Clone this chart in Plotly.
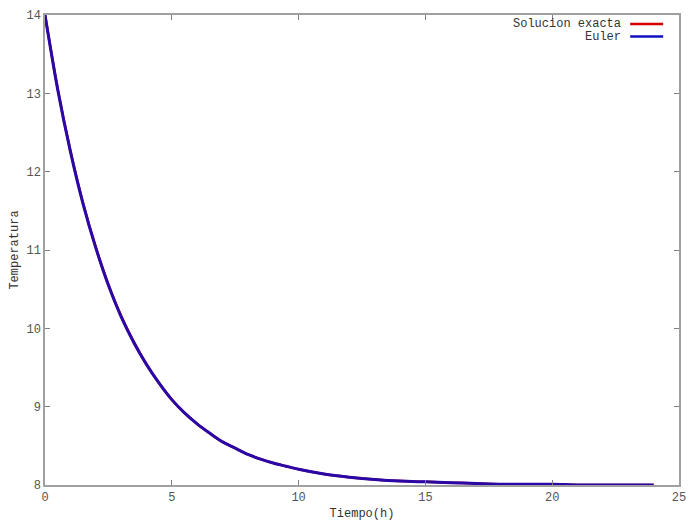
import plotly.graph_objects as go

# tiempo (h) y temperaturas
tiempo = [0, 0.5, 1, 1.5, 2, 2.5, 3, 3.5, 4, 4.5, 5, 5.5, 6, 6.5, 7, 7.5, 8, 8.5, 9, 9.5,
          10, 11, 12, 13, 14, 15, 16, 17, 18, 19, 20, 21, 22, 23, 24]
temp_exacta = [14.00, 13.06, 12.27, 11.60, 11.04, 10.56, 10.16, 9.83, 9.54, 9.30,
               9.09, 8.92, 8.78, 8.66, 8.55, 8.47, 8.39, 8.33, 8.28, 8.24,
               8.20, 8.14, 8.10, 8.07, 8.05, 8.04, 8.03, 8.02, 8.01, 8.01,
               8.01, 8.00, 8.00, 8.00, 8.00]
temp_euler = [14.00, 13.05, 12.26, 11.59, 11.03, 10.55, 10.15, 9.82, 9.54, 9.30,
              9.09, 8.92, 8.78, 8.66, 8.55, 8.47, 8.39, 8.33, 8.28, 8.24,
              8.20, 8.14, 8.10, 8.07, 8.05, 8.04, 8.03, 8.02, 8.01, 8.01,
              8.01, 8.00, 8.00, 8.00, 8.00]

legend_names = ['Solucion exacta', 'Euler']
COLORS = ['#d40000', '#1010c0']
EULER_CURVE = '#2a08a8'   # azul sobre rojo, se ve indigo
FONT = 'Liberation Mono, Courier New, monospace'
AXIS_GREY = '#a0a0a0'

fig = go.Figure()
fig.add_trace(go.Scatter(x=tiempo, y=temp_exacta, mode='lines', name=legend_names[0],
                         line=dict(color=COLORS[0], width=2.5, shape='spline', smoothing=0.8),
                         showlegend=False))
fig.add_trace(go.Scatter(x=tiempo, y=temp_euler, mode='lines', name=legend_names[1],
                         line=dict(color=EULER_CURVE, width=3, shape='spline', smoothing=0.8),
                         showlegend=False))

# leyenda estilo gnuplot: texto a la izquierda, muestra de linea a la derecha
leg_y = [0.981, 0.954]
for name, color, yy in zip(legend_names, COLORS, leg_y):
    fig.add_annotation(text=name, x=0.912, y=yy, xref='paper', yref='paper',
                       xanchor='right', yanchor='middle', showarrow=False,
                       font=dict(family=FONT, size=12, color='#333333'))
    fig.add_shape(type='line', x0=0.923, x1=0.975, y0=yy, y1=yy,
                  xref='paper', yref='paper', line=dict(color=color, width=2.5))

axis_common = dict(showgrid=False, zeroline=False, showline=True, mirror='ticks',
                   linecolor=AXIS_GREY, linewidth=1.5, ticks='inside', ticklen=5,
                   tickcolor='#808080', tickwidth=1, automargin=False,
                   tickfont=dict(family=FONT, size=12, color='#555555'))

# la pagina desplaza el grafico unos 8px, se compensa en los margenes
fig.update_layout(width=700, height=525,
                  plot_bgcolor='white', paper_bgcolor='white',
                  margin=dict(l=37, r=29, t=7, b=48),
                  xaxis=dict(range=[0, 25], dtick=5,
                             title=dict(text='Tiempo(h)', standoff=4,
                                        font=dict(family=FONT, size=12, color='#333333')),
                             **axis_common),
                  yaxis=dict(range=[8, 14], dtick=1,
                             title=dict(text='Temperatura', standoff=14,
                                        font=dict(family=FONT, size=12, color='#333333')),
                             **axis_common))

fig.write_html("out.html")
